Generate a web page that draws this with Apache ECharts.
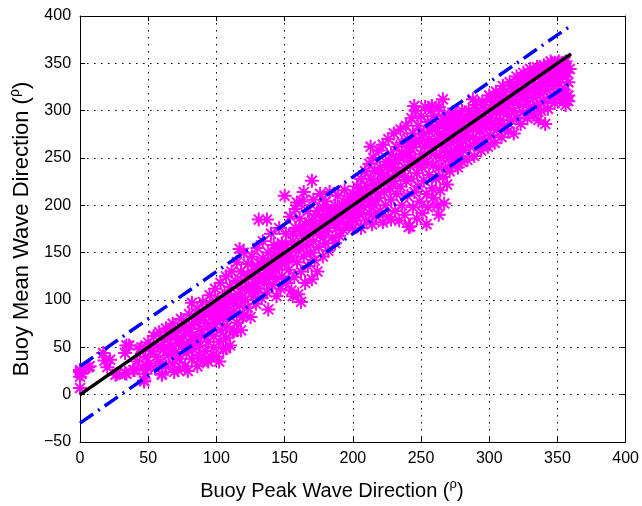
<!DOCTYPE html>
<html>
<head>
<meta charset="utf-8">
<script src="https://cdn.jsdelivr.net/npm/echarts@6/dist/echarts.min.js"></script>
<style>
  html, body { margin: 0; padding: 0; background: #fff; }
  #main { width: 642px; height: 506px; }
</style>
</head>
<body>
<div id="main"></div>
<script>
// buoy peak vs mean direction
const ptsA = [ // peak 0-100
  [0,24],[0,19],[0,7],[0,26],[1,22],[6,29],[7,30],[17,44],[18,36],[20,29],[22,37],[26,21],[27,22],
  [33,23],[34,22],[33,44],[34,52],[36,52],[39,26],[40,26],[42,35],[44,48],[47,14],[47,15],[46,28],[49,30],[52,46],[60,21],
  [45,50],[48,40],[48,22],[50,55],[51,33],[53,46],[54,62],[55,28],
  [56,40],[57,52],[58,66],[59,35],[60,22],[61,48],[62,58],[63,70],[63,30],
  [65,42],[66,62],[67,52],[68,75],[68,33],[69,24],
  [70,45],[71,58],[72,68],[72,26],[73,38],[74,80],[75,52],[76,62],
  [77,30],[77,72],[78,44],[79,25],[80,56],[80,85],[81,66],[82,38],[82,97],[83,48],[84,76],
  [85,60],[86,30],[86,90],[87,42],[88,70],[88,52],[89,82],[90,98],[90,35],
  [91,62],[92,46],[92,76],[93,88],[94,56],[94,35],[95,105],[95,68],[96,40],[96,82],[97,94],
  [98,50],[98,62],[99,112],[99,74],[100,86],[100,40],[101,100],[102,35],[102,56]
];
const ptsB = [ // peak 100-200
  [103,68],[103,118],[104,92],[105,80],[105,48],[106,108],[107,60],[107,49],[107,125],[108,96],[108,72],[109,84],
  [110,114],[110,52],[111,130],[112,100],[112,66],[113,88],[113,67],[114,120],[115,76],[115,140],[116,106],
  [117,94],[117,154],[118,130],[118,68],[119,112],[119,82],[120,84],[120,150],[121,100],[122,122],[123,138],
  [123,92],[124,110],[125,82],[126,128],[126,146],[127,104],[128,118],[129,96],[130,136],[130,155],
  [131,112],[131,185],[132,124],[133,102],[134,144],[134,162],[135,118],[136,132],[137,108],[137,185],
  [138,150],[138,90],[139,128],[140,140],[140,170],[141,116],[142,158],[143,132],[144,122],[144,104],
  [145,146],[146,176],[146,136],[147,112],[148,160],[148,125],[149,150],[150,140],[150,210],
  [151,118],[151,170],[152,152],[153,132],[154,188],[155,144],[155,110],[156,162],[156,104],[157,124],
  [158,176],[158,196],[159,140],[159,203],[160,152],[160,106],[161,186],[162,130],[162,98],[163,168],
  [163,204],[164,146],[164,214],[165,118],[165,180],[166,158],[167,194],[167,136],[168,170],[169,150],
  [170,184],[170,122],[170,226],[171,206],[171,162],[172,142],[173,176],[174,194],[174,130],[175,156],
  [176,168],[176,212],[177,184],[178,146],[178,198],[179,172],[180,160],[180,204],[181,188],[182,176],
  [182,152],[183,214],[184,194],[185,166],[186,182],[187,200],[187,160],[188,176],[189,210],[190,190],
  [190,168],[191,182],[192,200],[193,174],[194,216],[195,192],[196,180],[197,206],[198,196],[199,186],
  [200,212],[200,176]
];
const ptsC = [ // peak 200-280
  [201,198],[202,184],[203,220],[204,206],[205,190],[206,228],[206,176],[207,212],[208,198],[209,236],
  [210,184],[210,220],[211,206],[212,244],[212,192],[213,262],[213,228],[214,214],[214,180],[215,250],
  [216,200],[216,236],[217,188],[218,222],[219,258],[219,208],[220,194],[220,240],[221,228],[222,182],
  [222,264],[223,214],[224,246],[224,200],[225,232],[226,270],[226,188],[227,218],[228,254],[228,185],
  [228,206],[229,240],[230,226],[230,276],[231,194],[232,262],[232,212],[233,248],[234,234],[234,184],
  [235,280],[235,220],[236,200],[236,266],[237,252],[238,240],[238,190],[239,284],[239,226],[240,210],
  [240,270],[241,256],[241,177],[242,178],[242,242],[243,292],[243,228],[244,198],[244,276],[245,262],
  [245,214],[245,305],[246,248],[246,300],[247,234],[247,186],[248,284],[248,220],[249,268],[249,204],
  [250,254],[250,294],[251,240],[251,192],[252,276],[252,226],[253,304],[253,262],[254,212],[254,180],
  [254,246],[255,288],[255,198],[256,232],[256,270],[257,256],[257,300],[258,218],[258,282],[258,305],
  [259,242],[259,208],[260,266],[260,294],[261,228],[261,252],[262,278],[262,200],[263,304],[263,190],
  [263,240],[264,264],[264,216],[265,288],[265,250],[266,230],[266,274],[266,312],[267,296],[267,258],
  [267,202],[268,240],[268,282],[269,222],[269,264],[270,292],[270,250],[271,272],[271,236],[272,282],
  [272,256],[273,298],[273,242],[274,268],[275,286],[275,250],[276,260],[276,276],[277,294],[277,240],
  [278,270],[278,252],[279,284],[279,262],[280,274],[280,300],[280,246]
];
const ptsD = [ // peak 280-360
  [281,258],[282,290],[283,270],[284,248],[285,300],[285,280],[286,262],[287,294],[288,272],[288,312],
  [289,252],[290,306],[290,284],[291,266],[292,296],[293,278],[294,258],[295,310],[295,288],[296,270],
  [297,300],[298,282],[299,262],[300,316],[300,292],[301,274],[302,306],[303,286],[304,266],[305,320],
  [305,298],[306,280],[307,310],[308,290],[309,272],[310,326],[310,302],[311,284],[312,314],[313,296],
  [314,278],[315,330],[315,308],[316,290],[317,320],[318,300],[318,276],[319,312],[320,336],[320,292],
  [321,324],[322,306],[323,286],[324,318],[325,340],[325,298],[326,330],[327,310],[328,292],[329,322],
  [330,344],[330,304],[331,334],[332,314],[333,296],[334,326],[335,346],[335,306],[336,290],[336,338],
  [337,318],[338,300],[339,330],[340,348],[340,310],[341,286],[341,340],[342,322],[343,302],[344,334],
  [345,352],[345,314],[346,344],[347,326],[348,308],[349,338],[350,350],[350,318],[351,330],[352,342],
  [353,312],[354,336],[355,348],[355,322],[356,306],[357,340],[357,315],[358,330],[358,310],[358,316],[359,344]
];
// the solid core around the 1:1 line
const ptsCore = [
  [62,50],[64,66],[67,44],[70,62],[73,54],[76,70],[79,48],[82,74],[84,58],[87,80],[89,64],[92,86],
  [94,72],[96,92],[99,80],[101,94],[103,84],[106,100],[108,88],[111,104],[113,96],[116,118],[118,102],
  [121,112],[123,126],[126,116],[128,132],[131,122],[133,138],[136,124],[138,140],[141,130],[143,148],
  [146,156],[148,140],[151,158],[153,146],[156,170],[158,154],[161,176],[163,158],[166,172],[168,182],
  [171,174],[173,190],[176,178],[178,188],[181,196],[183,182],[186,192],[188,186],[191,196],[193,188],
  [196,204],[198,192],[201,208],[203,198],[206,214],[208,206],[211,214],[213,204],[216,222],[218,212],
  [221,234],[223,224],[226,242],[228,226],[231,248],[233,236],[236,254],[238,230],[241,262],[243,250],
  [246,268],[248,244],[251,270],[253,250],[256,278],[258,262],[261,282],[263,268],[266,286],[268,272],
  [271,284],[273,276],[276,290],[278,280],[281,288],[283,278],[286,296],[288,284],[291,300],[293,290],
  [296,306],[298,292],[301,312],[303,300],[306,316],[308,300],[311,320],[313,306],[316,326],[318,312],
  [321,330],[323,318],[326,336],[328,320],[331,340],[333,326],[336,344],[338,330],[341,346],[343,332],
  [346,350],[348,336],[351,352],[353,340],[356,352]
];

// 1:1 line and +/-30 deg band
const lineX = [0, 360];
const bandOffset = 30;

const axisFont = 'Liberation Sans, Arial, Helvetica, sans-serif';
const chart = echarts.init(document.getElementById('main'));

const richX = {
  t: { fontSize: 20, fontFamily: axisFont, color: '#000' },
  s: { fontSize: 13, fontFamily: axisFont, color: '#000', padding: [0, 0, 13, 0] }
};
const richY = {
  t: { fontSize: 22, fontFamily: axisFont, color: '#000' },
  s: { fontSize: 14, fontFamily: axisFont, color: '#000', padding: [0, 0, 14, 0] }
};

const star = 'path://M6 0L6 12M0 6L12 6M1.76 1.76L10.24 10.24M1.76 10.24L10.24 1.76';

function frameAxis(pos, min, max, showLabel) {
  return {
    type: 'value',
    position: pos,
    min: min,
    max: max,
    interval: 50,
    axisLine: { show: true, onZero: false, lineStyle: { color: '#000', width: 1 } },
    axisTick: { show: true, inside: true, length: 5, lineStyle: { color: '#000' } },
    axisLabel: {
      show: showLabel, color: '#000', fontSize: 16, fontFamily: axisFont, margin: 9,
      formatter: v => String(v).replace('-', '\u2212')
    },
    splitLine: showLabel ? { show: true, lineStyle: { color: '#000', width: 1, type: [1.5, 5.5] } } : { show: false }
  };
}

const xBottom = frameAxis('bottom', 0, 400, true);
xBottom.name = '{t|Buoy Peak Wave Direction (}{s|ρ}{t|)}';
xBottom.nameLocation = 'middle';
xBottom.nameGap = 36;
xBottom.nameTextStyle = { rich: richX, padding: [0, 42, 0, 0] };

const yLeft = frameAxis('left', -50, 400, true);
yLeft.name = '{t|Buoy Mean Wave Direction (}{s|ρ}{t|)}';
yLeft.nameLocation = 'middle';
yLeft.nameGap = 40;
yLeft.nameTextStyle = { rich: richY };

const option = {
  backgroundColor: '#fff',
  animation: false,
  grid: { left: 80, right: 14, top: 16, bottom: 58 },
  xAxis: [xBottom, frameAxis('top', 0, 400, false)],
  yAxis: [yLeft, frameAxis('right', -50, 400, false)],
  series: [
    {
      type: 'scatter',
      data: ptsA.concat(ptsB, ptsC, ptsD, ptsCore),
      symbol: star,
      symbolSize: 14,
      itemStyle: { color: '#ff00ff', borderColor: '#ff00ff', borderWidth: 2, opacity: 1 },
      z: 2
    },
    {
      type: 'line',
      data: lineX.map(v => [v, v]),
      showSymbol: false,
      lineStyle: { color: '#000', width: 3.5 },
      z: 4
    },
    {
      type: 'line',
      data: lineX.map(v => [v, v + bandOffset]),
      showSymbol: false,
      lineStyle: { color: '#0000ff', width: 3.5, type: [16, 6, 2, 6] },
      z: 3
    },
    {
      type: 'line',
      data: lineX.map(v => [v, v - bandOffset]),
      showSymbol: false,
      lineStyle: { color: '#0000ff', width: 3.5, type: [16, 6, 2, 6] },
      z: 3
    }
  ]
};
chart.setOption(option);
</script>
</body>
</html>
